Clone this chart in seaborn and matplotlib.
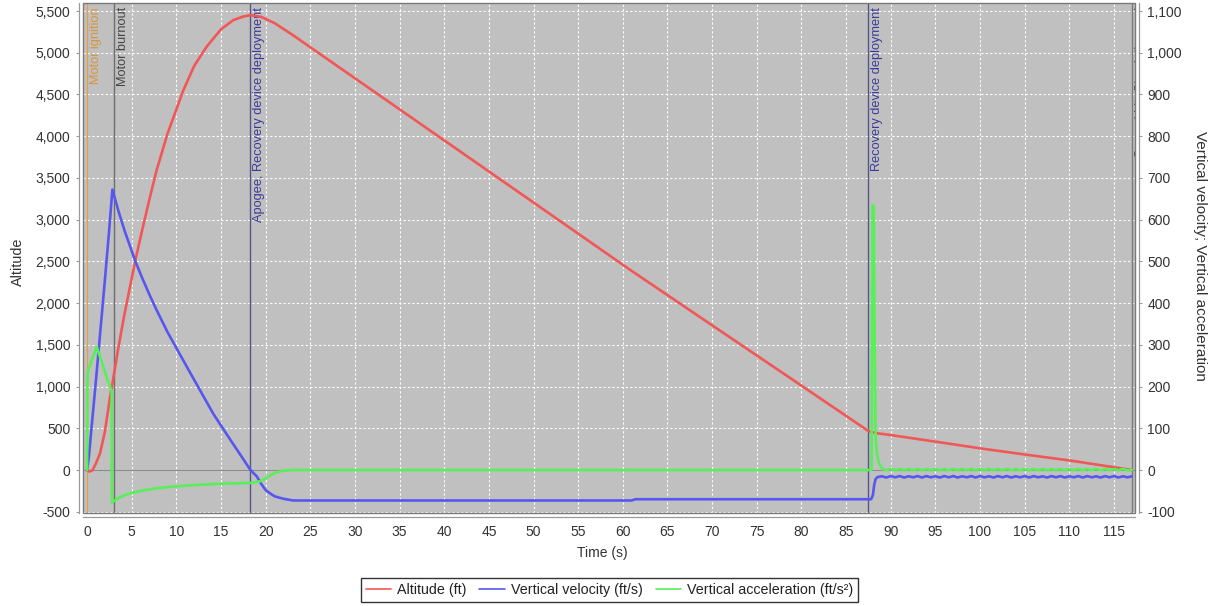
import matplotlib
matplotlib.use("Agg")
import matplotlib.pyplot as plt
import matplotlib.transforms as mtransforms
import seaborn as sns
import pandas as pd
from matplotlib.lines import Line2D
from matplotlib.patches import Rectangle
from matplotlib.ticker import FuncFormatter, MultipleLocator

# ---------------- data ----------------
alt_time = [0.0, 0.25, 0.6, 1.0, 1.46, 2.0, 2.58, 2.85, 3.5, 4.2, 5.38, 6.2, 7.06, 7.8,
            9.0, 10.8, 12.0, 13.4, 15.0, 16.4, 17.5, 18.3, 19.5, 21.0, 23.0, 30.0, 40.0,
            50.0, 61.0, 70.0, 80.0, 87.6, 88.0, 88.5, 90.0, 95.0, 100.0, 105.0, 110.2, 117.0]
alt_ft = [0, -18, -5, 80, 200, 460, 878, 1040, 1459, 1871, 2496, 2887, 3275, 3595,
          4026, 4554, 4842, 5073, 5281, 5392, 5434, 5450, 5430, 5355, 5215, 4694, 3950,
          3205, 2385, 1734, 1011, 460, 452, 440, 419, 340, 260, 186, 112, 0]

vel_time = [0.0, 0.2, 0.5, 1.0, 1.5, 2.0, 2.5, 2.84, 3.5, 4.2, 5.38, 6.2, 7.06, 7.8, 9.0,
            10.43, 12.0, 14.16, 16.0, 17.5, 18.3, 19.0, 19.5, 20.0, 20.5, 21.0, 22.0, 23.1,
            61.0, 61.4, 87.8, 88.0, 88.15, 88.3, 88.5,
            89.0, 89.5, 90.0, 90.5, 91.0, 91.5, 92.0, 92.5, 93.0, 93.5, 94.0, 94.5, 95.0,
            95.5, 96.0, 96.5, 97.0, 97.5, 98.0, 98.5, 99.0, 99.5, 100.0, 100.5, 101.0,
            101.5, 102.0, 102.5, 103.0, 103.5, 104.0, 104.5, 105.0, 105.5, 106.0, 106.5,
            107.0, 107.5, 108.0, 108.5, 109.0, 109.5, 110.0, 110.5, 111.0, 111.5, 112.0,
            112.5, 113.0, 113.5, 114.0, 114.5, 115.0, 115.5, 116.0, 116.5, 117.0]
vel_fts = [0, 30, 100, 215, 335, 455, 580, 672, 622, 574, 502, 459, 417, 383, 331,
           276, 216, 134, 74, 26, 0, -15, -33, -48, -56, -63, -69, -73,
           -73, -70, -70, -60, -35, -22, -17,
           -15.0, -18.0, -14.5, -17.5, -14.5, -18.0, -15.0, -17.5, -14.5, -18.0, -14.5,
           -17.5, -15.0, -18.0, -14.5, -17.5, -14.5, -18.0, -15.0, -17.5, -14.5, -18.0,
           -14.5, -17.5, -15.0, -18.0, -14.5, -17.5, -14.5, -18.0, -15.0, -17.5, -14.5,
           -18.0, -14.5, -17.5, -15.0, -18.0, -14.5, -17.5, -14.5, -18.0, -15.0, -17.5,
           -14.5, -18.0, -14.5, -17.5, -15.0, -18.0, -14.5, -17.5, -14.5, -18.0, -15.0,
           -17.5, -15.0]

acc_time = [0.0, 0.05, 0.5, 1.09, 1.6, 2.2, 2.65, 2.76, 2.8, 3.3, 4.0, 5.0, 6.5, 8.0,
            10.0, 12.0, 15.0, 18.3, 19.4, 20.2, 20.9, 21.8, 23.0, 87.85, 87.95, 88.1,
            88.2, 88.3, 88.45, 88.7, 89.1,
            89.5, 90.0, 90.5, 91.0, 91.5, 92.0, 92.5, 93.0, 93.5, 94.0, 94.5, 95.0,
            95.5, 96.0, 96.5, 97.0, 97.5, 98.0, 98.5, 99.0, 99.5, 100.0, 100.5, 101.0,
            101.5, 102.0, 102.5, 103.0, 103.5, 104.0, 104.5, 105.0, 105.5, 106.0, 106.5,
            107.0, 107.5, 108.0, 108.5, 109.0, 109.5, 110.0, 110.5, 111.0, 111.5, 112.0,
            112.5, 113.0, 113.5, 114.0, 114.5, 115.0, 115.5, 116.0, 116.5, 117.0]
acc_fts2 = [0, 232, 262, 295, 262, 222, 196, 190, -78, -70, -62, -55, -48, -43,
            -39, -36, -33, -31, -27, -17, -8, -2, 0, 0, 635, 630,
            300, 80, 40, 15, 2,
            -0.5, 2.5, -0.5, 2.5, -0.5, 2.5, -0.5, 2.5, -0.5, 2.5, -0.5, 2.5,
            -0.5, 2.5, -0.5, 2.5, -0.5, 2.5, -0.5, 2.5, -0.5, 2.5, -0.5, 2.5,
            -0.5, 2.5, -0.5, 2.5, -0.5, 2.5, -0.5, 2.5, -0.5, 2.5, -0.5,
            2.5, -0.5, 2.5, -0.5, 2.5, -0.5, 2.5, -0.5, 2.5, -0.5, 2.5,
            -0.5, 2.5, -0.5, 2.5, -0.5, 2.5, -0.5, 2.5, -0.5, 0.0]

series_labels = ["Altitude (ft)", "Vertical velocity (ft/s)", "Vertical acceleration (ft/s\u00b2)"]
series_colors = ["#f25757", "#5757f0", "#57f057"]

event_times = [0.0, 3.06, 18.27, 87.48, 117.0]
event_labels = ["Motor ignition", "Motor burnout", "Apogee, Recovery device deployment",
                "Recovery device deployment", "Ground hit, Simulation end"]
event_line_colors = ["#e0a050", "#6e6e6e", "#55558a", "#55558a", "#7a7a7a"]
event_text_colors = ["#d8963c", "#444444", "#3a3a9a", "#3a3a9a", "#444444"]

x_ticks = list(range(0, 120, 5))
alt_ticks = list(range(-500, 6000, 500))
right_ticks = list(range(-100, 1200, 100))

# ---------------- figure ----------------
sns.set_style("white")
plt.rcParams['font.family'] = ['Liberation Sans', 'DejaVu Sans']

W, H = 1211, 606
fig = plt.figure(figsize=(W / 100, H / 100), dpi=100)
fig.patch.set_facecolor("white")
L, R, T, B = 83, 1135, 3, 513
ax = fig.add_axes([L / W, 1 - B / H, (R - L) / W, (B - T) / H])
ax.set_facecolor("#c0c0c0")
ax2 = ax.twinx()

XMIN, XMAX = -0.45, 117.35
ax.set_axisbelow(True)
ax.set_yticks(alt_ticks)
ax.set_xticks(x_ticks)
ax2.set_yticks(right_ticks)
ax.grid(True, color="white", linestyle=(0, (2, 2)), linewidth=0.8)
ax.axhline(0, color="#8c8c8c", lw=0.8, zorder=1)

# events
blend = mtransforms.blended_transform_factory(ax.transData, ax.transAxes)
for t, lab, lc, tc in zip(event_times, event_labels, event_line_colors, event_text_colors):
    ax.axvline(t, color=lc, lw=1.0, zorder=1.5)
    tr = mtransforms.offset_copy(blend, fig=fig, x=2.0, y=-3.0, units="points")
    ax.text(t, 1.0, lab, transform=tr, rotation=90, ha="left", va="top",
            fontsize=9.2, color=tc, zorder=1.6, clip_on=True)

# series
df_alt = pd.DataFrame({"t": alt_time, "v": alt_ft})
df_vel = pd.DataFrame({"t": vel_time, "v": vel_fts})
df_acc = pd.DataFrame({"t": acc_time, "v": acc_fts2})
sns.lineplot(data=df_alt, x="t", y="v", ax=ax, color=series_colors[0], lw=1.9,
             estimator=None, sort=False, legend=False, zorder=3)
sns.lineplot(data=df_vel, x="t", y="v", ax=ax2, color=series_colors[1], lw=1.9,
             estimator=None, sort=False, legend=False, zorder=3)
sns.lineplot(data=df_acc, x="t", y="v", ax=ax2, color=series_colors[2], lw=1.9,
             estimator=None, sort=False, legend=False, zorder=3)
ax.set_xlim(XMIN, XMAX)
ax.set_ylim(-515, 5596)
ax2.set_ylim(-515 / 5, 5596 / 5)

# axes styling
fmt = FuncFormatter(lambda v, p: f"{int(round(v)):,}")
ax.yaxis.set_major_formatter(fmt)
ax2.yaxis.set_major_formatter(fmt)
ax.set_xlabel("")
ax.set_ylabel("")
ax2.set_ylabel("")

for a in (ax, ax2):
    for s in a.spines.values():
        s.set_visible(False)
ax.spines["left"].set_visible(True)
ax.spines["bottom"].set_visible(True)
ax2.spines["right"].set_visible(True)
for s in (ax.spines["left"], ax.spines["bottom"], ax2.spines["right"]):
    s.set_position(("outward", 3))
    s.set_color("#9a9a9a")
    s.set_linewidth(0.9)

ax.add_patch(Rectangle((0, 0), 1, 1, transform=ax.transAxes, fill=False,
                       edgecolor="#7a7a7a", lw=1.0, clip_on=False, zorder=5))

ax.tick_params(axis="both", length=2.5, width=0.8, color="#9a9a9a", labelsize=10,
               labelcolor="#333333", pad=3.5)
ax2.tick_params(axis="y", length=2.5, width=0.8, color="#9a9a9a", labelsize=10,
                labelcolor="#333333", pad=3.5)

fig.text(18 / W, 1 - 262 / H, "Altitude", rotation=90, ha="center", va="center",
         fontsize=10.4, color="#333333")
fig.text(1200 / W, 1 - 256 / H, "Vertical velocity; Vertical acceleration", rotation=270,
         ha="center", va="center", fontsize=11, color="#333333")
fig.text(602 / W, 1 - 553 / H, "Time (s)", ha="center", va="center",
         fontsize=10, color="#333333")

handles = [Line2D([0], [0], color=c, lw=1.2) for c in series_colors]
leg = fig.legend(handles, series_labels, loc="center", bbox_to_anchor=(609.5 / W, 1 - 590 / H),
                 ncol=3, frameon=True, fancybox=False, edgecolor="black", fontsize=10.3,
                 handlelength=1.8, handletextpad=0.4, columnspacing=0.9, borderpad=0.35,
                 borderaxespad=0)
leg.get_frame().set_linewidth(1.0)
for t in leg.get_texts():
    t.set_color("#222222")

fig.savefig("out.png", dpi=100)
